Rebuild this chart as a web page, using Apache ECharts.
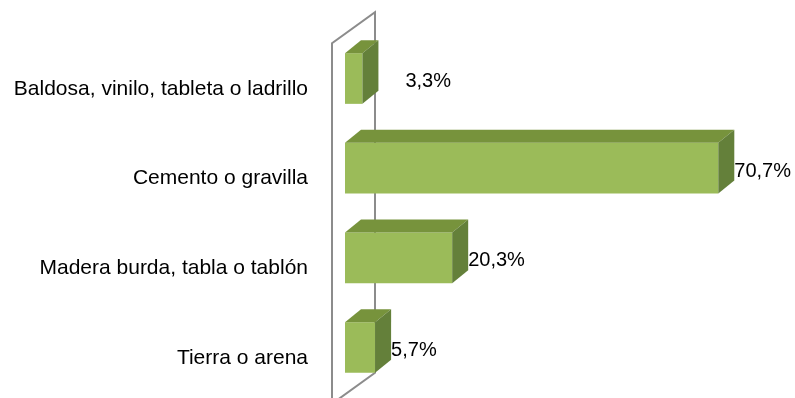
<!DOCTYPE html>
<html>
<head>
<meta charset="utf-8">
<script src="https://cdn.jsdelivr.net/npm/echarts@6/dist/echarts.min.js"></script>
<style>
html,body{margin:0;padding:0;background:#fff;}
#chart{width:795px;height:398px;}
</style>
</head>
<body>
<div id="chart"></div>
<script>
const categories = [
  'Baldosa, vinilo, tableta o ladrillo',
  'Cemento o gravilla',
  'Madera burda, tabla o tablón',
  'Tierra o arena'
];
const values = [3.3, 70.7, 20.3, 5.7];

const FRONT = '#9BBB59', TOP = '#77933C', SIDE = '#64803A';
const DX = 16, DY = 13;
const FONT = 'Liberation Sans, Arial, sans-serif';

function fmt(v){ return v.toFixed(1).replace('.', ',') + '%'; }

function renderWall(params, api){
  const cs = params.coordSys;
  const x0 = api.coord([0, 0])[0];
  const fx = x0 - 13, bx = x0 + 30;
  const gTop = cs.y, gBot = cs.y + cs.height;
  return {
    type: 'polyline',
    shape: { points: [
      [fx, gBot + 14], [fx, gTop + 9.5], [bx, gTop - 21.5], [bx, gBot - 19.5], [fx, gBot + 11.5]
    ]},
    style: { stroke: '#8C8C8C', lineWidth: 2, fill: null }
  };
}

function renderBar(params, api){
  const v = api.value(0), idx = api.value(1);
  const p0 = api.coord([0, idx]);
  const p1 = api.coord([v, idx]);
  const band = api.size([0, 1])[1];
  const h = band * 0.565;
  const cy = p0[1];
  const top = cy - h / 2, bot = cy + h / 2;
  const x0 = p0[0], x1 = p1[0];
  const extra = idx === 0 ? 27 : 0;
  return {
    type: 'group',
    children: [
      { type: 'rect', shape: { x: x0, y: top, width: x1 - x0, height: h }, style: { fill: FRONT } },
      { type: 'polygon', shape: { points: [[x0, top], [x0 + DX, top - DY], [x1 + DX, top - DY], [x1, top]] }, style: { fill: TOP } },
      { type: 'polygon', shape: { points: [[x1, top], [x1 + DX, top - DY], [x1 + DX, bot - DY], [x1, bot]] }, style: { fill: SIDE } },
      { type: 'text', style: { x: x1 + DX + extra, y: cy + 3, text: fmt(v), fill: '#000', fontSize: 20, fontFamily: FONT, align: 'left', verticalAlign: 'middle' } }
    ]
  };
}

const chart = echarts.init(document.getElementById('chart'));
chart.setOption({
  animation: false,
  backgroundColor: '#fff',
  grid: { left: 345, top: 33.7, width: 422.4, height: 358.6 },
  xAxis: { type: 'value', min: 0, max: 80, show: false },
  yAxis: {
    type: 'category', data: categories, inverse: true,
    axisLine: { show: false }, axisTick: { show: false }, splitLine: { show: false },
    axisLabel: { fontSize: 21, color: '#000', fontFamily: FONT, margin: 37, verticalAlign: 'top' }
  },
  series: [
    { type: 'custom', renderItem: renderWall, data: [[0, 0]], silent: true, z: 1 },
    { type: 'custom', renderItem: renderBar, data: values.map((v, i) => [v, i]), encode: { x: 0, y: 1 }, z: 2 }
  ]
});
</script>
</body>
</html>
